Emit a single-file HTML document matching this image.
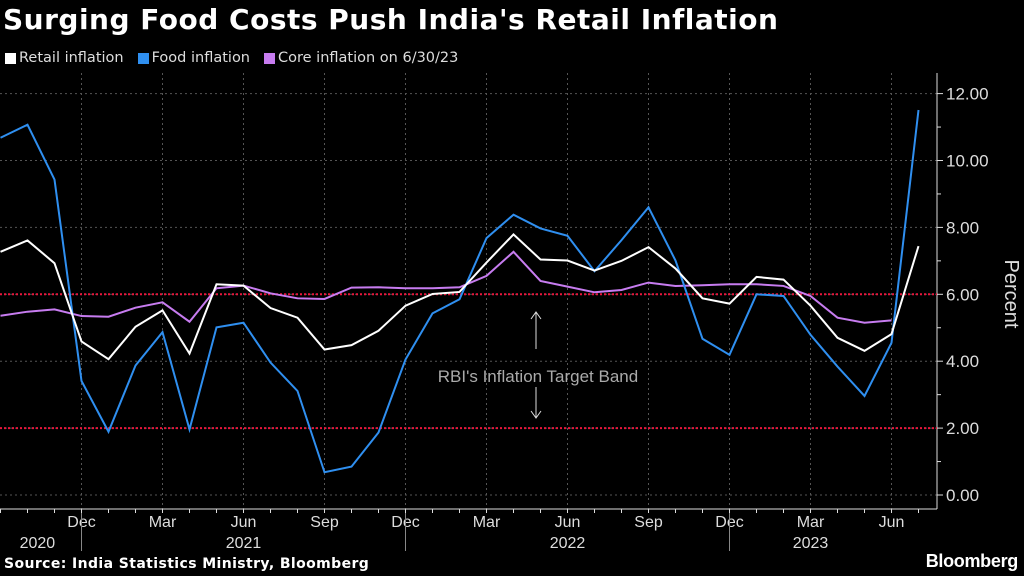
<!DOCTYPE html>
<html><head><meta charset="utf-8"><style>
body{margin:0;background:#000;width:1024px;height:576px;overflow:hidden;font-family:"Liberation Sans",sans-serif;color:#fff}
#title{position:absolute;left:3px;top:3px;font-family:"DejaVu Sans",sans-serif;font-size:28px;letter-spacing:0.5px;font-weight:bold;white-space:nowrap}
#legend{position:absolute;left:5px;top:50px;font-family:"DejaVu Sans",sans-serif;font-size:14.5px;color:#ddd;display:flex;gap:14px;white-space:nowrap}
.li{display:flex;align-items:center}.sw{width:11px;height:11px;margin-right:3px}
#src{position:absolute;left:4px;top:556px;font-family:"DejaVu Sans",sans-serif;font-size:14px;letter-spacing:0.4px;font-weight:bold;white-space:nowrap}
#logo{position:absolute;right:6px;top:551px;font-size:18px;font-weight:bold;letter-spacing:-0.3px}
svg{position:absolute;left:0;top:0}
</style></head><body>
<div id="title">Surging Food Costs Push India's Retail Inflation</div>
<div id="legend">
<div class="li"><span class="sw" style="background:#fff"></span>Retail inflation</div>
<div class="li"><span class="sw" style="background:#2f8ff0"></span>Food inflation</div>
<div class="li"><span class="sw" style="background:#c77cf0"></span>Core inflation on 6/30/23</div>
</div>
<svg id="chart" width="1024" height="576"></svg>
<div id="src">Source: India Statistics Ministry, Bloomberg</div>
<div id="logo">Bloomberg</div>
<script>
const retail=[7.27,7.61,6.93,4.59,4.06,5.03,5.52,4.23,6.30,6.26,5.59,5.30,4.35,4.48,4.91,5.66,6.01,6.07,6.95,7.79,7.04,7.01,6.71,7.00,7.41,6.77,5.88,5.72,6.52,6.44,5.66,4.70,4.31,4.81,7.44];
const food=[10.68,11.07,9.43,3.41,1.89,3.87,4.87,1.96,5.01,5.15,3.96,3.11,0.68,0.85,1.87,4.05,5.43,5.85,7.68,8.38,7.97,7.75,6.69,7.62,8.60,7.01,4.67,4.19,6.00,5.95,4.79,3.84,2.96,4.55,11.51];
const core=[5.36,5.48,5.55,5.35,5.33,5.60,5.76,5.18,6.18,6.26,6.03,5.88,5.86,6.20,6.21,6.18,6.18,6.21,6.55,7.27,6.40,6.23,6.06,6.13,6.35,6.25,6.27,6.30,6.30,6.25,5.95,5.30,5.15,5.22];
const yTicks=[0,2,4,6,8,10,12];
const monthLabels=[[3,"Dec"],[6,"Mar"],[9,"Jun"],[12,"Sep"],[15,"Dec"],[18,"Mar"],[21,"Jun"],[24,"Sep"],[27,"Dec"],[30,"Mar"],[33,"Jun"]];
const yearLabels=[[0.7,"2020"],[9,"2021"],[21,"2022"],[30,"2023"]];
const yearDividers=[3,15,27];
const band=[2,6];
const NS="http://www.w3.org/2000/svg",svg=document.getElementById('chart');
const X=i=>i*27.0+0.5, Y=v=>495-v*33.45;
function mk(t,a){const e=document.createElementNS(NS,t);for(const k in a)e.setAttribute(k,a[k]);svg.appendChild(e);return e;}
yTicks.forEach(v=>{const g=mk('line',{x1:0,x2:937,y1:Y(v),y2:Y(v),stroke:'#555','stroke-dasharray':'2,3','stroke-width':1});


const t=mk('line',{x1:937,x2:943,y1:Y(v),y2:Y(v),stroke:'#ddd'});


const l=mk('text',{x:946,y:Y(v)+6,fill:'#ddd','font-size':17});l.textContent=v.toFixed(2);

});
for(let v=1;v<12;v+=2){const t=mk('line',{x1:937,x2:941,y1:Y(v),y2:Y(v),stroke:'#ddd'});

}
monthLabels.forEach(([i,s])=>{const g=mk('line',{x1:X(i),x2:X(i),y1:73,y2:509,stroke:'#555','stroke-dasharray':'2,3'});


const l=mk('text',{x:X(i),y:527,fill:'#ddd','font-size':16,'text-anchor':'middle'});l.textContent=s;

});
for(let i=0;i<35;i++){const t=mk('line',{x1:X(i),x2:X(i),y1:509,y2:513,stroke:'#ddd'});

}
yearLabels.forEach(([i,s])=>{const l=mk('text',{x:X(i)+(i<1?18:0),y:548,fill:'#ddd','font-size':16,'text-anchor':'middle'});l.textContent=s;

});
yearDividers.forEach(i=>{const d=mk('line',{x1:X(i),x2:X(i),y1:513,y2:551,stroke:'#888'});

});
const xa=mk('line',{x1:0,x2:937,y1:509,y2:509,stroke:'#ddd'});


const ya=mk('line',{x1:937,x2:937,y1:73,y2:509,stroke:'#ddd'});


const yt=mk('text',{x:0,y:0,fill:'#ddd','font-size':20,'text-anchor':'middle',transform:'translate(1005,294) rotate(90)'});yt.textContent='Percent';


band.forEach(v=>{const b=mk('line',{x1:0,x2:937,y1:Y(v),y2:Y(v),stroke:'#e8163c','stroke-width':2,'stroke-dasharray':'2,2'});

});
const an=mk('text',{x:538,y:382,fill:'#aaa','font-size':17,'text-anchor':'middle'});an.textContent="RBI's Inflation Target Band";


const au=mk('path',{d:'M536,349 V312 M531,319 L536,312 L541,319',stroke:'#ddd',fill:'none'});


const ad=mk('path',{d:'M536,387 V418 M531,411 L536,418 L541,411',stroke:'#ddd',fill:'none'});


function line(d,c,n){const p=mk('polyline',{points:d.map((v,i)=>X(i)+','+Y(v)).join(' '),fill:'none',stroke:c,'stroke-width':2,'stroke-linejoin':'miter'});

}
line(core,'#c77cf0','core-inflation-line');
line(food,'#2f8ff0','food-inflation-line');
line(retail,'#ffffff','retail-inflation-line');
</script>
</body></html>
